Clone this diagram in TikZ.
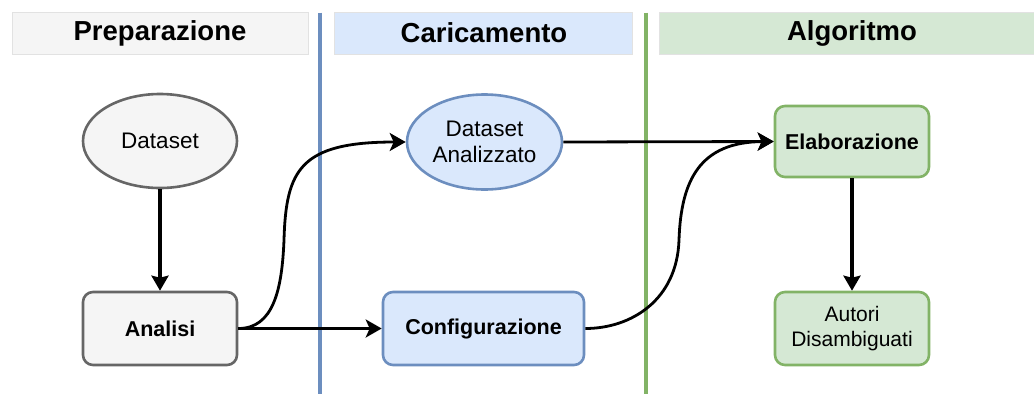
\documentclass[tikz,border=0pt]{standalone}
\usepackage{fontspec}
\setmainfont{Liberation Sans}
\usetikzlibrary{arrows.meta,shapes.geometric}

\definecolor{grayfill}{HTML}{F5F5F5}
\definecolor{graystroke}{HTML}{666666}
\definecolor{bluefill}{HTML}{DAE8FC}
\definecolor{bluestroke}{HTML}{6C8EBF}
\definecolor{greenfill}{HTML}{D5E8D4}
\definecolor{greenstroke}{HTML}{82B366}
\definecolor{headline}{HTML}{E2E2E2}

\tikzset{
  header/.style={draw=headline, line width=1pt},
  headtext/.style={font=\fontsize{27.5}{32}\selectfont\bfseries},
  lane/.style={line width=3.2pt},
  proc/.style={rectangle, rounded corners=10pt, line width=2.6pt, minimum height=73pt, align=center,
    font=\fontsize{21.5}{25}\selectfont\bfseries},
  procplain/.style={proc, font=\fontsize{21}{24.5}\selectfont},
  data/.style={ellipse, line width=2.6pt, inner sep=0pt, align=center,
    font=\fontsize{22.5}{26}\selectfont},
  grayst/.style={draw=graystroke, fill=grayfill},
  bluest/.style={draw=bluestroke, fill=bluefill},
  greenst/.style={draw=greenstroke, fill=greenfill},
  flow/.style={line width=2.8pt, -{Stealth[length=16pt, width=18pt, inset=4pt]}},
  downflow/.style={line width=3.2pt, -{Stealth[length=15pt, width=17pt, inset=2pt]}},
}

\begin{document}
\begin{tikzpicture}[x=1pt, y=-1pt]
\useasboundingbox (0,0) rectangle (1034,394);

% column headers
\filldraw[header, fill=grayfill]  (12,12)  rectangle (308,54);
\filldraw[header, fill=bluefill]  (334,12) rectangle (632,54);
\filldraw[header, fill=greenfill] (659,12) rectangle (1045,54);
\node[headtext] (hprep) at (160,33) {Preparazione};
\node[headtext] (hcar)  at (484,33) {Caricamento};
\node[headtext] (halg)  at (852,33) {Algoritmo};

% lane separators
\draw[lane, bluestroke]  (320,12.5) -- (320,394);
\draw[lane, greenstroke] (646,12.5) -- (646,394);

% nodes
\node[data, grayst, minimum width=154pt, minimum height=94pt] (dataset) at (160,141) {Dataset};
\node[proc, grayst, minimum width=154pt] (analisi) at (160,328.5) {Analisi};
\node[data, bluest, minimum width=155pt, minimum height=95pt] (danal) at (484.5,142) {Dataset\\Analizzato};
\node[proc, bluest, minimum width=201pt] (config) at (483.5,328.5) {Configurazione};
\node[proc, greenst, minimum width=154pt, minimum height=71pt] (elab) at (852,141.5) {Elaborazione};
\node[procplain, greenst, minimum width=154pt] (autori) at (852,328.5) {Autori\\Disambiguati};

% connectors
\draw[downflow] (dataset) -- (analisi);
\draw[flow] (analisi.east) -- (config.west);
\draw[flow] (analisi.east) .. controls +(35,0) and (282,290) .. (284,240)
                            .. controls (286,170) and (300,142) .. (danal.west);
\draw[flow] (danal.east) -- (elab.west);
\draw[flow] (config.east) .. controls +(46,0) and (677,300) .. (679,240)
                           .. controls (681,180) and (700,142) .. (elab.west);
\draw[downflow] (elab) -- (autori);
\end{tikzpicture}
\end{document}
